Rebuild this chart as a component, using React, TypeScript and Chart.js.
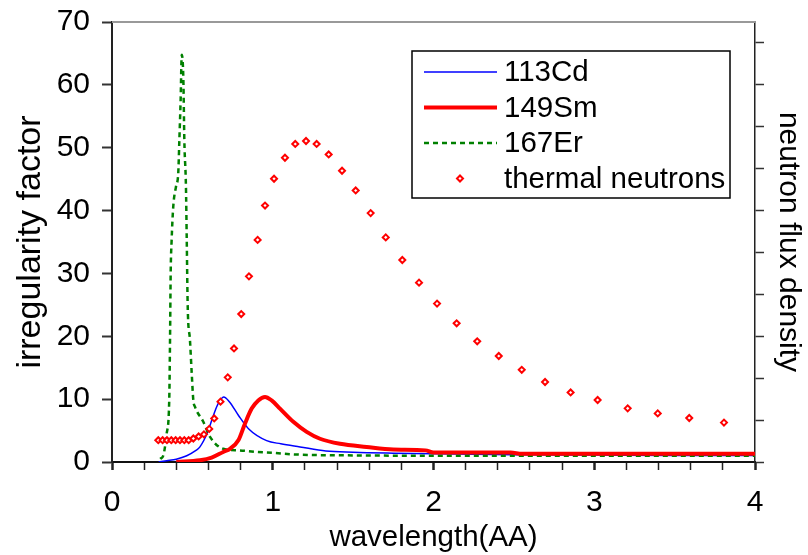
import React, { useEffect, useRef } from "react";
import { Chart, registerables } from "chart.js";

Chart.register(...registerables);

const FONT = "'Liberation Sans', Arial, Helvetica, sans-serif";

// ---- data ----
const seriesLabels = ["113Cd", "149Sm", "167Er", "thermal neutrons"];
const xTitle = "wavelength(AA)";
const yTitle = "irregularity factor";
const y2Title = "neutron flux density";

const cdWavelength = [0.29, 0.34, 0.40, 0.465, 0.52, 0.547, 0.596, 0.62, 0.645, 0.672, 0.695, 0.73, 0.787, 0.849, 0.962, 1.05, 1.17, 1.33, 1.5, 1.75, 2.0, 2.5, 3.0, 3.5, 4.0];
const cdFactor = [0, 0.2, 0.45, 1.0, 1.8, 2.4, 4.8, 6.6, 8.4, 9.8, 10.35, 9.6, 7.4, 5.3, 3.4, 2.9, 2.4, 1.75, 1.55, 1.4, 1.3, 1.15, 1.1, 1.05, 1.05];

const smWavelength = [0.40, 0.547, 0.62, 0.692, 0.734, 0.787, 0.827, 0.869, 0.91, 0.952, 0.993, 1.045, 1.128, 1.211, 1.294, 1.418, 1.584, 1.75, 1.95, 2.0, 2.48, 2.55, 3.0, 3.5, 4.0];
const smFactor = [0, 0.27, 0.7, 1.6, 2.1, 3.5, 6.1, 8.5, 9.8, 10.35, 9.8, 8.5, 6.4, 4.8, 3.7, 2.9, 2.4, 2.0, 1.85, 1.5, 1.5, 1.3, 1.3, 1.3, 1.3];

const erWavelength = [0.30, 0.32, 0.34, 0.356, 0.361, 0.365, 0.371, 0.381, 0.398, 0.412, 0.419, 0.427, 0.434, 0.444, 0.45, 0.46, 0.465, 0.471, 0.485, 0.496, 0.506, 0.516, 0.568, 0.61, 0.692, 0.787, 0.9, 1.0, 1.14, 1.5, 2.0, 2.5, 3.0, 3.5, 4.0];
const erFactor = [0.5, 1.1, 4.5, 9.8, 19.4, 30.0, 35.3, 40.6, 43.8, 45.9, 51.2, 57.6, 64.8, 60.8, 51.2, 43.8, 35.3, 24.7, 19.4, 14.1, 9.8, 8.8, 6.4, 4.0, 2.1, 1.86, 1.6, 1.45, 1.2, 1.05, 1.0, 1.0, 1.0, 1.0, 1.0];

const neutronWavelength = [0.288, 0.315, 0.342, 0.369, 0.396, 0.423, 0.45, 0.477, 0.506, 0.539, 0.572, 0.605, 0.636, 0.675, 0.72, 0.759, 0.804, 0.852, 0.906, 0.952, 1.008, 1.076, 1.14, 1.207, 1.273, 1.348, 1.431, 1.516, 1.609, 1.703, 1.806, 1.91, 2.022, 2.144, 2.272, 2.406, 2.549, 2.694, 2.853, 3.021, 3.208, 3.395, 3.591, 3.807];
const neutronFlux = [0.52, 0.52, 0.52, 0.52, 0.52, 0.52, 0.52, 0.52, 0.56, 0.61, 0.66, 0.79, 1.04, 1.44, 2.02, 2.71, 3.53, 4.43, 5.30, 6.12, 6.76, 7.26, 7.59, 7.66, 7.59, 7.34, 6.95, 6.48, 5.94, 5.36, 4.82, 4.28, 3.78, 3.31, 2.88, 2.53, 2.20, 1.91, 1.66, 1.48, 1.28, 1.16, 1.05, 0.94];

const xMin = 0;
const xMax = 4;
const xStep = 0.2;
const yMax = 70;
const yStep = 10;
const fluxMax = 10.5;
const fluxStep = 1;

function pts(xs: number[], ys: number[]) {
  return xs.map((x, i) => ({ x, y: ys[i] }));
}

const frameAndLegend = {
  id: "frameAndLegend",
  afterDraw(chart: any) {
    const { ctx, chartArea } = chart;
    ctx.save();
    // top frame line
    ctx.strokeStyle = "#999999";
    ctx.lineWidth = 2;
    ctx.beginPath();
    ctx.moveTo(chartArea.left, chartArea.top);
    ctx.lineTo(chartArea.right, chartArea.top);
    ctx.stroke();

    // legend box
    const left = chartArea.right - 343;
    const top = chartArea.top + 29;
    const w = 318;
    const h = 147;
    ctx.fillStyle = "#ffffff";
    ctx.fillRect(left, top, w, h);
    ctx.strokeStyle = "#000000";
    ctx.lineWidth = 1.5;
    ctx.strokeRect(left, top, w, h);

    chart.data.datasets.forEach((ds: any, i: number) => {
      const cy = top + 21 + i * 35.5;
      if (ds.showLine === false) {
        const cx = left + 48;
        const r = 3;
        ctx.setLineDash([]);
        ctx.strokeStyle = ds.pointBorderColor;
        ctx.fillStyle = ds.pointBackgroundColor;
        ctx.lineWidth = ds.pointBorderWidth;
        ctx.beginPath();
        ctx.moveTo(cx, cy - r);
        ctx.lineTo(cx + r, cy);
        ctx.lineTo(cx, cy + r);
        ctx.lineTo(cx - r, cy);
        ctx.closePath();
        ctx.fill();
        ctx.stroke();
      } else {
        ctx.setLineDash(ds.borderDash || []);
        ctx.strokeStyle = ds.borderColor;
        ctx.lineWidth = ds.borderWidth;
        ctx.beginPath();
        ctx.moveTo(left + 12, cy);
        ctx.lineTo(left + 85, cy);
        ctx.stroke();
      }
      ctx.setLineDash([]);
      ctx.fillStyle = "#000000";
      ctx.font = `29.5px ${FONT}`;
      ctx.textBaseline = "middle";
      ctx.textAlign = "left";
      ctx.fillText(ds.label, left + 92, cy + 1);
    });
    ctx.restore();
  },
};

export default function App() {
  const canvasRef = useRef<HTMLCanvasElement | null>(null);

  useEffect(() => {
    const canvas = canvasRef.current;
    if (!canvas) return;
    const chart = new Chart(canvas, {
      type: "line",
      data: {
        datasets: [
          {
            label: seriesLabels[0],
            data: pts(cdWavelength, cdFactor),
            borderColor: "#0000ff",
            borderWidth: 1.5,
            pointRadius: 0,
            cubicInterpolationMode: "monotone",
            yAxisID: "y",
            order: 3,
          },
          {
            label: seriesLabels[1],
            data: pts(smWavelength, smFactor),
            borderColor: "#ff0000",
            borderWidth: 4,
            pointRadius: 0,
            cubicInterpolationMode: "monotone",
            yAxisID: "y",
            order: 1,
          },
          {
            label: seriesLabels[2],
            data: pts(erWavelength, erFactor),
            borderColor: "#008000",
            borderWidth: 2.5,
            borderDash: [5, 4],
            pointRadius: 0,
            cubicInterpolationMode: "monotone",
            yAxisID: "y",
            order: 2,
          },
          {
            label: seriesLabels[3],
            data: pts(neutronWavelength, neutronFlux),
            showLine: false,
            pointStyle: "rectRot",
            pointRadius: 3,
            pointBorderWidth: 2,
            pointBorderColor: "#ff0000",
            pointBackgroundColor: "#ffffff",
            borderColor: "#ff0000",
            backgroundColor: "#ffffff",
            yAxisID: "y2",
            order: 0,
          },
        ] as any,
      },
      options: {
        animation: false,
        responsive: false,
        maintainAspectRatio: false,
        layout: { padding: { top: 22, left: 0, right: 0, bottom: 0 } },
        plugins: { legend: { display: false }, tooltip: { enabled: false } },
        scales: {
          x: {
            type: "linear",
            position: "bottom",
            min: xMin,
            max: xMax,
            afterFit(s: any) {
              s.height = 93;
              s.paddingLeft = 0;
              s.paddingRight = 0;
            },
            ticks: {
              stepSize: xStep,
              autoSkip: false,
              maxRotation: 0,
              padding: 18,
              color: "#000",
              font: { family: FONT, size: 30, lineHeight: 1 },
              callback: (v: any) => {
                const n = Number(v);
                return Math.abs(n - Math.round(n)) < 1e-6 ? String(Math.round(n)) : "";
              },
            },
            grid: {
              drawOnChartArea: false,
              drawTicks: true,
              tickLength: 8,
              tickColor: "#222",
              tickWidth: (c: any) => {
                const n = c.tick ? c.tick.value : 0;
                return Math.abs(n - Math.round(n)) < 1e-6 ? 2.5 : 1.5;
              },
            },
            border: { display: true, color: "#111", width: 2 },
            title: {
              display: true,
              text: xTitle,
              color: "#000",
              font: { family: FONT, size: 29.5, lineHeight: 1 },
              padding: { top: 0, bottom: 2 },
            },
          },
          y: {
            type: "linear",
            position: "left",
            min: 0,
            max: yMax,
            afterFit(s: any) {
              s.width = 112;
              s.paddingTop = 0;
              s.paddingBottom = 0;
            },
            ticks: {
              stepSize: yStep,
              padding: 12,
              color: "#000",
              font: { family: FONT, size: 30, lineHeight: 1 },
            },
            grid: {
              drawOnChartArea: false,
              drawTicks: true,
              tickLength: 10,
              tickColor: "#333",
              tickWidth: 2,
            },
            border: { display: true, color: "#222", width: 2 },
            title: {
              display: true,
              text: yTitle,
              color: "#000",
              font: { family: FONT, size: 34, lineHeight: 1 },
              padding: { top: 14, bottom: 0 },
            },
          },
          y2: {
            type: "linear",
            position: "right",
            min: 0,
            max: fluxMax,
            afterFit(s: any) {
              s.width = 53;
              s.paddingTop = 0;
              s.paddingBottom = 0;
            },
            ticks: {
              display: false,
              stepSize: fluxStep,
              includeBounds: false,
            },
            grid: {
              drawOnChartArea: false,
              drawTicks: true,
              tickLength: 9,
              tickColor: "#333",
              tickWidth: 1.5,
            },
            border: { display: true, color: "#222", width: 1.5 },
            title: {
              display: true,
              text: y2Title,
              color: "#000",
              font: { family: FONT, size: 30, lineHeight: 1 },
              padding: { top: 5, bottom: 0 },
            },
          },
        },
      } as any,
      plugins: [frameAndLegend],
    });
    return () => chart.destroy();
  }, []);

  return (
    <div style={{ position: "absolute", left: 0, top: 0, width: 808, height: 555, background: "#fff" }}>
      <canvas ref={canvasRef} width={808} height={555} style={{ display: "block" }} />
    </div>
  );
}
